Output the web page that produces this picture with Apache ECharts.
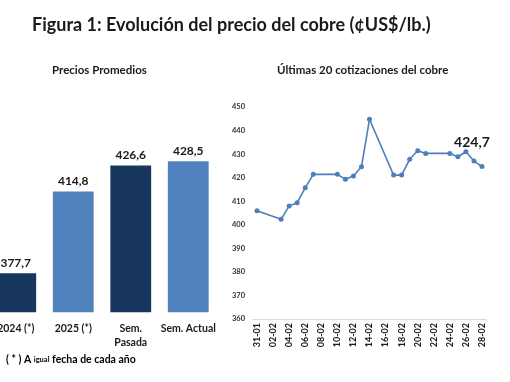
<!DOCTYPE html>
<html>
<head>
<meta charset="utf-8">
<script src="https://cdn.jsdelivr.net/npm/echarts@6/dist/echarts.min.js"></script>
<style>
html,body{margin:0;padding:0;background:#fff;overflow:hidden;}
#main{position:absolute;left:-30px;top:0;width:540px;height:382px;}
</style>
</head>
<body>
<div id="main"></div>
<script>
// Left chart: average prices
const barCategories = ['2024 (*)', '2025 (*)', 'Sem.\nPasada', 'Sem. Actual'];
const barValues = [377.7, 414.8, 426.6, 428.5];
const barColors = ['#17375e', '#4f81bd', '#17375e', '#4f81bd'];

// Right chart: last quotes
const dayLabels = ['31-01','01-02','02-02','03-02','04-02','05-02','06-02','07-02','08-02','09-02',
  '10-02','11-02','12-02','13-02','14-02','15-02','16-02','17-02','18-02','19-02',
  '20-02','21-02','22-02','23-02','24-02','25-02','26-02','27-02','28-02'];
const quoteDates = ['31-01','03-02','04-02','05-02','06-02','07-02','10-02','11-02','12-02','13-02','14-02',
  '17-02','18-02','19-02','20-02','21-02','24-02','25-02','26-02','27-02','28-02'];
const quoteValues = [406.0, 402.3, 408.0, 409.4, 415.7, 421.4, 421.4, 419.3, 420.7, 424.6, 444.8,
  421.1, 421.1, 427.8, 431.4, 430.3, 430.3, 428.9, 431.0, 427.1, 424.7];
const yTicks = {min: 360, max: 450, step: 10};

const FONT = 'Lato';
const OX = 30; // the canvas starts 30px left of the visible window
const chart = echarts.init(document.getElementById('main'), null, {renderer: 'canvas'});

const lineData = quoteDates.map((d, i) => {
  const item = {value: [d, quoteValues[i]]};
  if (i === quoteDates.length - 1) {
    item.label = {
      show: true, position: 'top', distance: 5, offset: [-10, -10],
      formatter: (p) => p.value[1].toFixed(1).replace('.', ','),
      fontFamily: FONT, fontWeight: 'bold', fontSize: 14, color: '#1a1a1a'
    };
  }
  return item;
});

chart.setOption({
  animation: false,
  backgroundColor: '#ffffff',
  graphic: [
    {type: 'text', x: OX + 32, y: 25, style: {text: 'Figura 1: Evolución del precio del cobre (¢US$/lb.)',
      font: 'bold 18px ' + FONT, fill: '#1a1a1a', textVerticalAlign: 'middle'}},
    {type: 'text', x: OX + 52, y: 70, style: {text: 'Precios Promedios',
      font: 'bold 11.5px ' + FONT, fill: '#1a1a1a', textVerticalAlign: 'middle'}},
    {type: 'text', x: OX + 277, y: 70, style: {text: 'Últimas 20 cotizaciones del cobre',
      font: 'bold 11.5px ' + FONT, fill: '#1a1a1a', textVerticalAlign: 'middle'}},
    {type: 'text', x: OX + 6, y: 360, style: {
      rich: {a: {fontFamily: FONT, fontWeight: 'bold', fontSize: 10.5, color: '#1a1a1a'},
             b: {fontFamily: FONT, fontWeight: 'bold', fontSize: 7.5, color: '#1a1a1a'}},
      text: '{a|( * ) A }{b|igual}{a| fecha de cada año}', textVerticalAlign: 'middle'}}
  ],
  grid: [
    {left: OX - 13, top: 114, width: 230, bottom: 69.7},
    {left: OX + 253, top: 107, right: 24, bottom: 63}
  ],
  xAxis: [
    {gridIndex: 0, type: 'category', data: barCategories,
      axisLine: {show: false}, axisTick: {show: false},
      axisLabel: {fontFamily: FONT, fontWeight: 'bold', fontSize: 10.5, color: '#1a1a1a',
        margin: 9, lineHeight: 14, interval: 0}},
    {gridIndex: 1, type: 'category', data: dayLabels, boundaryGap: true,
      axisLine: {show: true, lineStyle: {color: '#d9d9d9', width: 1}},
      axisTick: {show: false},
      axisLabel: {interval: 1, rotate: 90, margin: 4, fontFamily: FONT, fontWeight: 'bold',
        fontSize: 9, color: '#1a1a1a'}}
  ],
  yAxis: [
    {gridIndex: 0, type: 'value', min: 360, max: 450, show: false},
    {gridIndex: 1, type: 'value', min: yTicks.min, max: yTicks.max, interval: yTicks.step,
      axisLine: {show: false}, axisTick: {show: false}, splitLine: {show: false},
      axisLabel: {fontFamily: FONT, fontWeight: 'bold', fontSize: 7.5, color: '#333', margin: 8}}
  ],
  series: [
    {type: 'bar', xAxisIndex: 0, yAxisIndex: 0, barCategoryGap: '29%',
      data: barValues.map((v, i) => ({value: v, itemStyle: {color: barColors[i]}})),
      label: {show: true, position: 'top', distance: 4,
        formatter: (p) => p.value.toFixed(1).replace('.', ','),
        fontFamily: FONT, fontWeight: 'bold', fontSize: 12, color: '#1a1a1a'}},
    {type: 'line', xAxisIndex: 1, yAxisIndex: 1, data: lineData,
      symbol: 'circle', symbolSize: 5,
      lineStyle: {color: '#4f7fba', width: 1.6},
      itemStyle: {color: '#4f7fba'}}
  ]
});
</script>
</body>
</html>
